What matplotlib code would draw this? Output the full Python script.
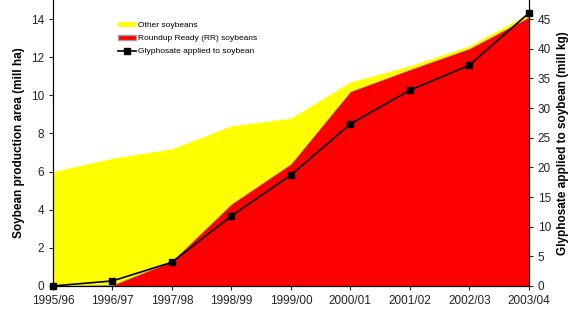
import matplotlib
matplotlib.use("Agg")
import matplotlib.pyplot as plt
from matplotlib.patches import Patch
from matplotlib.lines import Line2D

plt.rcParams['font.family'] = ['Liberation Sans', 'DejaVu Sans']

seasons = ["1995/96", "1996/97", "1997/98", "1998/99", "1999/00",
           "2000/01", "2001/02", "2002/03", "2003/04"]
total_area = [6.0, 6.7, 7.2, 8.4, 8.8, 10.7, 11.55, 12.6, 14.3]
rr_area = [0.0, 0.05, 1.3, 4.3, 6.4, 10.2, 11.35, 12.45, 14.1]
glyphosate = [0.0, 0.85, 4.0, 11.8, 18.7, 27.3, 33.0, 37.2, 46.0]

fig = plt.figure(figsize=(5.76, 3.16), dpi=100)
ax = fig.add_axes([0.092, 0.095, 0.826, 0.905])
x = list(range(len(seasons)))

ax.fill_between(x, 0, total_area, color='#FFFF00', linewidth=0, zorder=1)
ax.fill_between(x, 0, rr_area, color='#FF0000', edgecolor='#A0A0A0', linewidth=0.6, zorder=2)
ax.set_xlim(0, len(seasons) - 1)
ax.set_ylim(0, 15)
ax.set_yticks([0, 2, 4, 6, 8, 10, 12, 14])
ax.set_xticks(x)
ax.set_xticklabels(seasons)
ax.set_ylabel("Soybean production area (mill ha)", fontsize=8.5, fontweight='bold')
ax.tick_params(labelsize=8.5, length=3, direction='out', colors='#222222')
ax.spines['top'].set_visible(False)

ax2 = ax.twinx()
ax2.plot(x, glyphosate, color='black', marker='s', markersize=5, linewidth=1.2, zorder=5, clip_on=False)
ax2.set_ylim(0, 15 * 45 / 14)
ax2.set_yticks([0, 5, 10, 15, 20, 25, 30, 35, 40, 45])
ax2.set_ylabel("Glyphosate applied to soybean (mill kg)", fontsize=8.5, fontweight='bold')
ax2.tick_params(labelsize=8.5, length=3, direction='out', colors='#222222')
ax2.spines['top'].set_visible(False)

handles = [Patch(facecolor='#FFFF00', edgecolor='none'),
           Patch(facecolor='#FF0000', edgecolor='#A0A0A0'),
           Line2D([0], [0], color='black', marker='s', markersize=4, linewidth=1.2)]
labels = ["Other soybeans", "Roundup Ready (RR) soybeans", "Glyphosate applied to soybean"]
ax2.legend(handles, labels, loc='upper left', bbox_to_anchor=(0.12, 0.95), frameon=False,
           fontsize=6, handlelength=2.2, handleheight=0.6, labelspacing=0.65, handletextpad=0.2)

fig.savefig("out.png", dpi=100)
